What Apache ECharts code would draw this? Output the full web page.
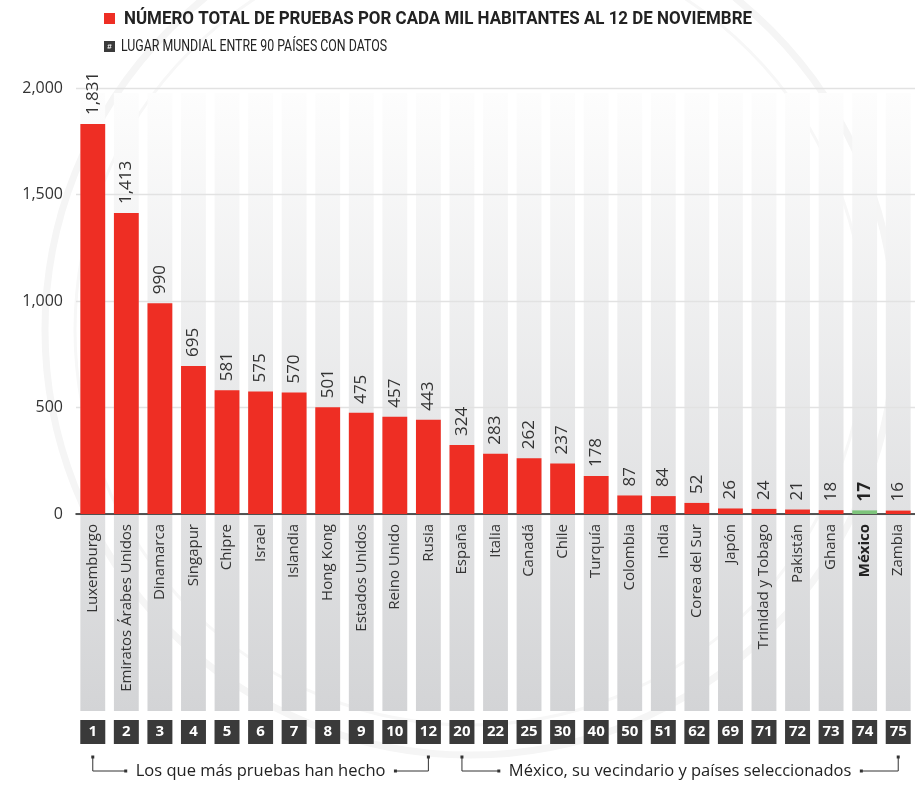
<!DOCTYPE html>
<html>
<head>
<meta charset="utf-8">
<script src="https://cdn.jsdelivr.net/npm/echarts@6/dist/echarts.min.js"></script>
<style>
  html, body { margin: 0; padding: 0; background: #fff; }
  #chart { width: 915px; height: 786px; }
</style>
</head>
<body>
<div id="chart"></div>
<script>
// Pruebas por cada mil habitantes (12 de noviembre) y lugar mundial
const countries = ['Luxemburgo', 'Emiratos Árabes Unidos', 'Dinamarca', 'Singapur', 'Chipre', 'Israel',
  'Islandia', 'Hong Kong', 'Estados Unidos', 'Reino Unido', 'Rusia', 'España', 'Italia', 'Canadá',
  'Chile', 'Turquía', 'Colombia', 'India', 'Corea del Sur', 'Japón', 'Trinidad y Tobago', 'Pakistán',
  'Ghana', 'México', 'Zambia'];
const testsPerThousand = [1831, 1413, 990, 695, 581, 575, 570, 501, 475, 457, 443, 324, 283, 262,
  237, 178, 87, 84, 52, 26, 24, 21, 18, 17, 16];
const worldRank = [1, 2, 3, 4, 5, 6, 7, 8, 9, 10, 12, 20, 22, 25, 30, 40, 50, 51, 62, 69, 71, 72, 73, 74, 75];
const yTicks = [0, 500, 1000, 1500, 2000];
const groupNotes = [
  { from: 'Luxemburgo', to: 'Rusia', text: 'Los que más pruebas han hecho' },
  { from: 'España', to: 'Zambia', text: 'México, su vecindario y países seleccionados' }
];
const highlight = 'México';

const RED = '#ee2e24';
const GREEN = '#7dc47b';
const INK = '#333333';
const FONT = '"Open Sans", "Noto Sans", sans-serif';

const chart = echarts.init(document.getElementById('chart'), null, { renderer: 'canvas' });

const fmt = v => v.toLocaleString('en-US');

const option = {
  animation: false,
  textStyle: { fontFamily: FONT },
  grid: [
    { left: 76, right: 0, top: 88, bottom: 272 },
    { left: 76, right: 0, top: 93, bottom: 75 }
  ],
  xAxis: [
    {
      type: 'category', gridIndex: 0, data: countries,
      axisLine: { lineStyle: { color: '#222', width: 1.5 } },
      axisTick: { show: false },
      axisLabel: {
        rotate: 90, margin: 10, fontSize: 15, color: INK, interval: 0,
        formatter: v => v === highlight ? '{b|' + v + '}' : v,
        rich: { b: { fontWeight: 'bold', fontSize: 15, color: '#222' } }
      },
      z: 3
    },
    {
      type: 'category', gridIndex: 1, data: worldRank.map(String),
      axisLine: { show: false }, axisTick: { show: false },
      axisLabel: {
        interval: 0, margin: 9, color: '#fff', fontWeight: 'bold', fontSize: 15,
        backgroundColor: '#3a3a3a', width: 25, height: 24, lineHeight: 24, align: 'center'
      }
    }
  ],
  yAxis: [
    {
      type: 'value', gridIndex: 0, min: yTicks[0], max: yTicks[yTicks.length - 1], interval: 500,
      axisLine: { show: false }, axisTick: { show: false },
      axisLabel: { fontSize: 16, color: INK, margin: 13, formatter: v => fmt(v) },
      splitLine: { lineStyle: { color: '#e2e2e2', width: 1.3 } },
      z: 1
    },
    { type: 'value', gridIndex: 1, min: 0, max: 1, show: false }
  ],
  series: [
    {
      name: 'fondo', type: 'bar', xAxisIndex: 1, yAxisIndex: 1, silent: true, z: -1,
      barCategoryGap: '26%',
      data: countries.map(() => 1),
      itemStyle: {
        color: new echarts.graphic.LinearGradient(0, 0, 0, 1, [
          { offset: 0, color: '#fdfdfd' },
          { offset: 1, color: '#d3d4d6' }
        ])
      }
    },
    {
      name: 'pruebas', type: 'bar', xAxisIndex: 0, yAxisIndex: 0, z: 4,
      barCategoryGap: '26%',
      data: testsPerThousand.map((v, i) => ({
        value: v,
        itemStyle: { color: countries[i] === highlight ? GREEN : RED },
        label: countries[i] === highlight ? { fontWeight: 'bold', color: '#222' } : undefined
      })),
      label: {
        show: true, position: 'top', rotate: 90, align: 'left', verticalAlign: 'middle',
        distance: 9, fontSize: 17, color: INK, formatter: p => fmt(p.value)
      }
    }
  ],
  graphic: []
};

chart.setOption(option);

// Measure text so the legend lines and bracket notes get their widths
const ctx = document.createElement('canvas').getContext('2d');
const textWidth = (font, s) => { ctx.font = font; return ctx.measureText(s).width; };

// Legend at the top (condensed lettering)
const titleText = 'NÚMERO TOTAL DE PRUEBAS POR CADA MIL HABITANTES AL 12 DE NOVIEMBRE';
const rankText = 'LUGAR MUNDIAL ENTRE 90 PAÍSES CON DATOS';
const titleFont = 'bold 18px Roboto, sans-serif';
const rankFont = '17px Roboto, sans-serif';
const titleScale = 628 / textWidth(titleFont, titleText);
const rankScale = 266 / textWidth(rankFont, rankText);
const legend = [
  { type: 'rect', shape: { x: 104, y: 13, width: 11, height: 11 }, style: { fill: RED } },
  { type: 'text', x: 124, y: 19, scaleX: titleScale, style: { text: titleText,
      font: titleFont, fill: '#222', verticalAlign: 'middle' } },
  { type: 'rect', shape: { x: 104, y: 41, width: 11, height: 11 }, style: { fill: '#3a3a3a' } },
  { type: 'text', x: 109.5, y: 46.5, style: { text: '#', font: 'bold 8px sans-serif', fill: '#fff', align: 'center', verticalAlign: 'middle' } },
  { type: 'text', x: 121, y: 47, scaleX: rankScale, style: { text: rankText,
      font: rankFont, fill: '#222', verticalAlign: 'middle' } }
];

// Faint circular seal behind the plot
const seal = [
  { type: 'circle', z: -10, shape: { cx: 470, cy: 330, r: 425 }, style: { fill: 'none', stroke: '#f5f5f5', lineWidth: 7 } },
  { type: 'circle', z: -10, shape: { cx: 470, cy: 330, r: 395 }, style: { fill: 'none', stroke: '#f7f7f7', lineWidth: 3 } }
];

// Brackets under the rank boxes, placed from the category axis
const noteFont = '16.5px "Open Sans", sans-serif';
const brackets = [];
const yTop = 757, yBot = 771;
groupNotes.forEach(n => {
  const x0 = chart.convertToPixel({ xAxisIndex: 0 }, countries.indexOf(n.from));
  const x1 = chart.convertToPixel({ xAxisIndex: 0 }, countries.indexOf(n.to));
  const mid = (x0 + x1) / 2;
  const w = textWidth(noteFont, n.text);
  const tl = mid - w / 2 - 10, tr = mid + w / 2 + 10;
  const line = { stroke: '#333', lineWidth: 1 };
  brackets.push(
    { type: 'polyline', shape: { points: [[x0, yTop], [x0, yBot], [tl, yBot]] }, style: Object.assign({ fill: 'none' }, line) },
    { type: 'polyline', shape: { points: [[tr, yBot], [x1, yBot], [x1, yTop]] }, style: Object.assign({ fill: 'none' }, line) },
    { type: 'rect', shape: { x: x0 - 1.5, y: yTop - 1.5, width: 3, height: 3 }, style: { fill: '#333' } },
    { type: 'rect', shape: { x: x1 - 1.5, y: yTop - 1.5, width: 3, height: 3 }, style: { fill: '#333' } },
    { type: 'rect', shape: { x: tl - 1.5, y: yBot - 1.5, width: 3, height: 3 }, style: { fill: '#333' } },
    { type: 'rect', shape: { x: tr - 1.5, y: yBot - 1.5, width: 3, height: 3 }, style: { fill: '#333' } },
    { type: 'text', x: mid, y: yBot, style: { text: n.text, font: noteFont, fill: '#222', align: 'center', verticalAlign: 'middle' } }
  );
});

chart.setOption({ graphic: { elements: seal.concat(legend, brackets) } });
</script>
</body>
</html>
